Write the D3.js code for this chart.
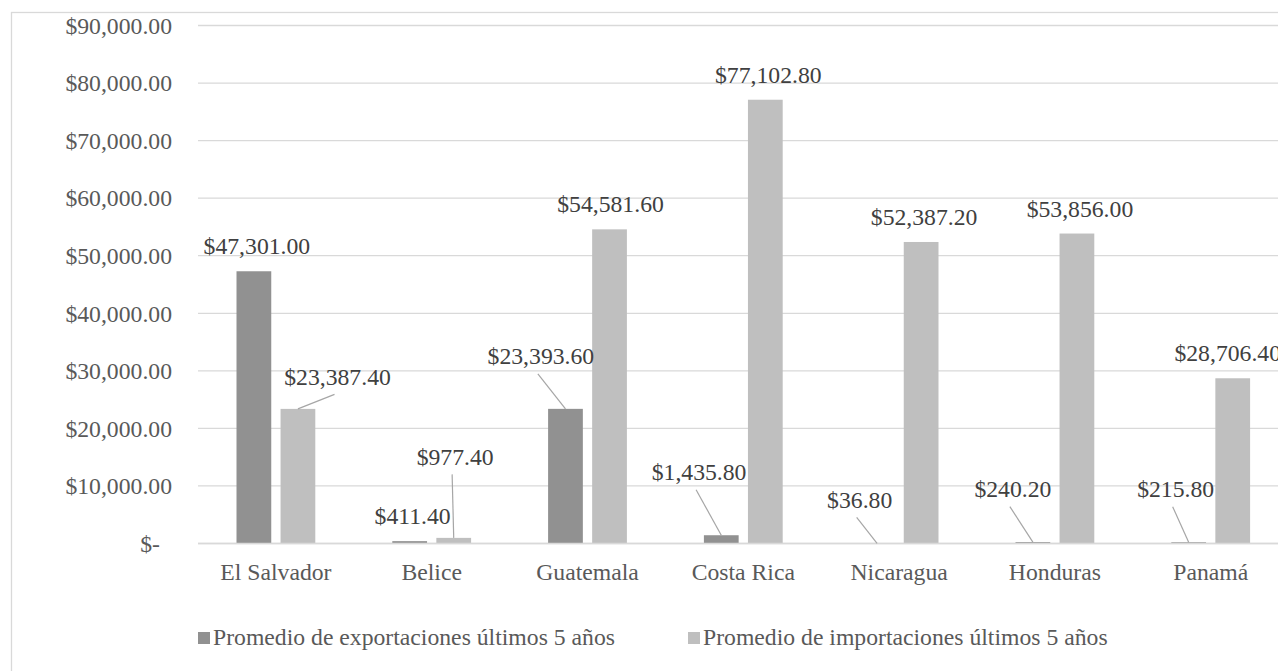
<!DOCTYPE html>
<html>
<head>
<meta charset="utf-8">
<script src="https://cdn.jsdelivr.net/npm/d3@7"></script>
<style>
  body { margin: 0; background: #fff; }
  svg text { font-family: "Liberation Serif", "Times New Roman", serif; }
</style>
</head>
<body>
<div id="chart-area"></div>
<script>
// datos
const countries = ["El Salvador", "Belice", "Guatemala", "Costa Rica", "Nicaragua", "Honduras", "Panamá"];
const seriesNames = ["Promedio de exportaciones últimos 5 años", "Promedio de importaciones últimos 5 años"];
const exportsAvg = [47301.00, 411.40, 23393.60, 1435.80, 36.80, 240.20, 215.80];
const importsAvg = [23387.40, 977.40, 54581.60, 77102.80, 52387.20, 53856.00, 28706.40];
const yTicks = [0, 10000, 20000, 30000, 40000, 50000, 60000, 70000, 80000, 90000];

// desplazamiento de etiquetas [dx, dy, guia]
const exportsLabelShift = [[3, 0, 0], [3, 0, 0], [-24.6, -27.6, 1], [-22.2, -38, 1], [-17.4, -18.3, 1], [-20, -28, 1], [-13, -28, 1]];
const importsLabelShift = [[39.6, -7, 1], [1.4, -56, 1], [1, 0, 0], [3, 0, 0], [3, 0, 0], [3, 0, 0], [-5, 0, 0]];

const width = 1278;
const height = 671;
const colors = ["#919191", "#bfbfbf"];
const fontSize = "23.7px";
const serif = "Liberation Serif, Times New Roman, serif";

const svg = d3.select("#chart-area")
    .append("svg")
    .attr("width", width)
    .attr("height", height)
    .attr("font-family", serif);

svg.append("rect")
    .attr("width", width)
    .attr("height", height)
    .attr("fill", "white");

// borde del grafico
svg.append("rect")
    .attr("x", 11.5)
    .attr("y", 12.5)
    .attr("width", 1400)
    .attr("height", 800)
    .attr("fill", "none")
    .attr("stroke", "#d9d9d9")
    .attr("stroke-width", 1.3);

const x0 = d3.scaleBand()
    .domain(countries)
    .range([198, 198 + 7 * 155.8])
    .paddingInner(0)
    .paddingOuter(0);

const x1 = d3.scaleBand()
    .domain([0, 1])
    .range([38.5, x0.bandwidth() - 38.5])
    .paddingInner(0.211);

const y = d3.scaleLinear()
    .domain([0, 90000])
    .range([543.5, 25.5]);

const fmt = d3.format("$,.2f");

// lineas de cuadricula
svg.append("g")
    .selectAll("line")
    .data(yTicks)
    .enter()
    .append("line")
        .attr("x1", 198)
        .attr("x2", width)
        .attr("y1", d => y(d))
        .attr("y2", d => y(d))
        .attr("stroke", "#d9d9d9")
        .attr("stroke-width", 1.3);

// eje y
const leftAxis = d3.axisLeft(y)
    .tickValues(yTicks)
    .tickSize(0)
    .tickPadding(0)
    .tickFormat(d => d === 0 ? "$-" : fmt(d));

const yAxis = svg.append("g")
    .attr("transform", "translate(172,0)")
    .call(leftAxis)
    .attr("font-family", serif);

yAxis.select(".domain").remove();
yAxis.selectAll("text")
    .attr("font-family", serif)
    .attr("font-size", fontSize)
    .attr("fill", "#595959")
    .attr("dy", "0.33em")
    .attr("x", d => d === 0 ? -12 : 0);

// eje x
const bottomAxis = d3.axisBottom(x0)
    .tickSize(0)
    .tickPadding(0);

const xAxis = svg.append("g")
    .attr("transform", "translate(0,543.5)")
    .call(bottomAxis)
    .attr("font-family", serif);

xAxis.select(".domain").remove();
xAxis.selectAll("text")
    .attr("font-family", serif)
    .attr("font-size", fontSize)
    .attr("fill", "#595959")
    .attr("y", 36.5)
    .attr("dy", 0);

// barras
const series = [exportsAvg, importsAvg];
const shifts = [exportsLabelShift, importsLabelShift];

const rows = [];
series.forEach((vals, s) => {
    vals.forEach((v, i) => {
        rows.push({ country: countries[i], s: s, value: v, shift: shifts[s][i] });
    });
});

const barX = d => x0(d.country) + x1(d.s);
const barCx = d => barX(d) + x1.bandwidth() / 2;

svg.append("g")
    .selectAll("rect")
    .data(rows)
    .enter()
    .append("rect")
        .attr("x", barX)
        .attr("y", d => y(d.value))
        .attr("width", x1.bandwidth())
        .attr("height", d => y(0) - y(d.value))
        .attr("fill", d => colors[d.s]);

// linea base
svg.append("line")
    .attr("x1", 198)
    .attr("x2", width)
    .attr("y1", y(0))
    .attr("y2", y(0))
    .attr("stroke", "#d9d9d9")
    .attr("stroke-width", 1.3);

// lineas guia
svg.append("g")
    .selectAll("line")
    .data(rows.filter(d => d.shift[2]))
    .enter()
    .append("line")
        .attr("x1", d => barCx(d) + d.shift[0] - 3)
        .attr("y1", d => y(d.value) - 17 + d.shift[1] + 9.5)
        .attr("x2", barCx)
        .attr("y2", d => y(d.value))
        .attr("stroke", "#a6a6a6")
        .attr("stroke-width", 1.2);

// etiquetas de datos
svg.append("g")
    .selectAll("text")
    .data(rows)
    .enter()
    .append("text")
        .attr("x", d => barCx(d) + d.shift[0])
        .attr("y", d => y(d.value) - 17 + d.shift[1])
        .attr("text-anchor", "middle")
        .attr("font-family", serif)
        .attr("font-size", fontSize)
        .attr("fill", "#404040")
        .text(d => fmt(d.value));

// leyenda
const legendX = [198, 688];
const legend = svg.append("g")
    .selectAll("g")
    .data(seriesNames)
    .enter()
    .append("g")
        .attr("transform", (d, i) => "translate(" + legendX[i] + ",0)");

legend.append("rect")
    .attr("x", 0)
    .attr("y", 632)
    .attr("width", 12)
    .attr("height", 12)
    .attr("fill", (d, i) => colors[i]);

legend.append("text")
    .attr("x", 15)
    .attr("y", 645)
    .attr("font-family", serif)
    .attr("font-size", fontSize)
    .attr("fill", "#595959")
    .text(d => d);
</script>
</body>
</html>
